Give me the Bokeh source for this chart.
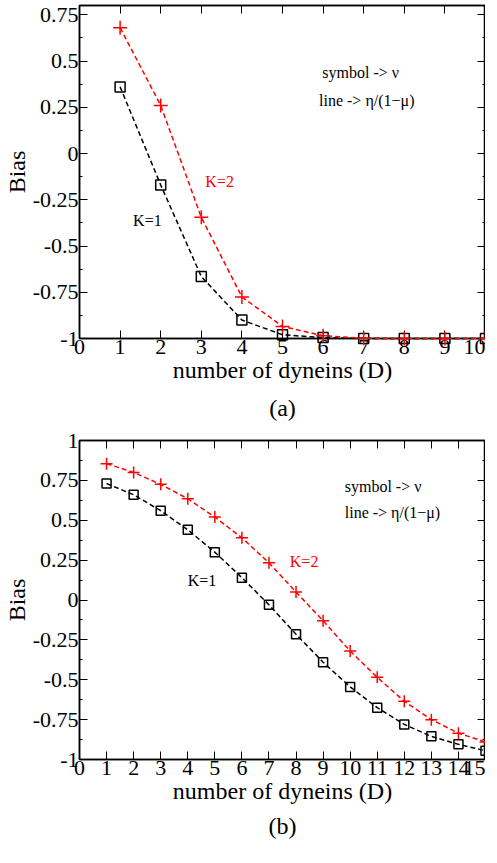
from bokeh.plotting import figure
from bokeh.models import FixedTicker, LinearAxis, Label, Title, Range1d
from bokeh.layouts import column
from bokeh.embed import file_html
from bokeh.resources import INLINE

# ---------------- data ----------------
D_a = [1, 2, 3, 4, 5, 6, 7, 8, 9, 10]
bias_a_k1 = [0.36, -0.17, -0.665, -0.90, -0.98, -0.995, -1.0, -1.0, -1.0, -1.0]
bias_a_k2 = [0.68, 0.26, -0.345, -0.775, -0.935, -0.985, -0.998, -1.0, -1.0, -1.0]

D_b = [1, 2, 3, 4, 5, 6, 7, 8, 9, 10, 11, 12, 13, 14, 15]
bias_b_k1 = [0.73, 0.66, 0.56, 0.44, 0.30, 0.14, -0.03, -0.215, -0.39, -0.545,
             -0.675, -0.78, -0.855, -0.905, -0.945]
bias_b_k2 = [0.855, 0.80, 0.725, 0.635, 0.52, 0.39, 0.233, 0.05, -0.13, -0.32,
             -0.485, -0.635, -0.75, -0.835, -0.89]

xticks_a = list(range(0, 11))
xticks_b = list(range(0, 16))
yticks_a = [-1, -0.75, -0.5, -0.25, 0, 0.25, 0.5, 0.75]
yticks_a_labels = ["-1", "-0.75", "-0.5", "-0.25", "0", "0.25", "0.5", "0.75"]
yticks_b = [-1, -0.75, -0.5, -0.25, 0, 0.25, 0.5, 0.75, 1]
yticks_b_labels = ["-1", "-0.75", "-0.5", "-0.25", "0", "0.25", "0.5", "0.75", "1"]

FONT = "Liberation Serif"


def style_axis(ax, ticks, labels=None, minor=None, show_labels=True):
    ax.ticker = FixedTicker(ticks=ticks, minor_ticks=minor or [])
    if not show_labels:
        ax.major_label_overrides = {t: "" for t in ticks}
    elif labels is not None:
        ax.major_label_overrides = {t: l for t, l in zip(ticks, labels)}
    else:
        ax.major_label_overrides = {t: str(t) for t in ticks}
    ax.major_tick_in = 8
    ax.major_tick_out = 0
    ax.minor_tick_in = 3
    ax.minor_tick_out = 0
    ax.major_tick_line_color = "black"
    ax.minor_tick_line_color = "black"
    ax.axis_line_color = "black"
    ax.axis_line_width = 1.5
    ax.major_label_text_font = FONT
    ax.axis_label_text_font = FONT
    ax.axis_label_text_font_style = "normal"
    ax.axis_label_text_color = "black"
    if show_labels:
        ax.major_label_text_font_size = "22px"
        ax.major_label_standoff = 1
        ax.major_label_text_color = "black"
    else:
        ax.major_label_text_font_size = "0px"
        ax.major_label_standoff = 0
        ax.major_label_text_color = None


def make_panel(D, k1, k2, xmax, ymax, xticks, yticks, ylabels, caption,
               h, top_border, cap_standoff, mk_plus, mk_sq, texts):
    p = figure(width=485, height=h, output_backend="svg",
               toolbar_location=None, x_range=Range1d(0, xmax),
               y_range=Range1d(-1, ymax), min_border_left=0,
               min_border_right=0, min_border_top=top_border,
               min_border_bottom=0)
    p.grid.visible = False
    p.outline_line_color = "black"
    p.outline_line_width = 1.5
    p.background_fill_color = "white"
    p.border_fill_color = "white"

    minor_y = [t + 0.125 for t in yticks[:-1]]
    style_axis(p.xaxis[0], xticks)
    style_axis(p.yaxis[0], yticks, ylabels, minor_y)
    p.xaxis[0].axis_label = "number of dyneins (D)"
    p.yaxis[0].axis_label = "Bias"
    p.xaxis[0].axis_label_text_font_size = "24px"
    p.yaxis[0].axis_label_text_font_size = "24px"
    p.xaxis[0].axis_label_standoff = 0
    p.yaxis[0].axis_label_standoff = 0

    top = LinearAxis()
    style_axis(top, xticks, show_labels=False)
    p.add_layout(top, "above")
    right = LinearAxis()
    style_axis(right, yticks, ylabels, minor_y, show_labels=False)
    p.add_layout(right, "right")

    p.line(D, k1, line_color="black", line_width=1.5, line_dash="5 3",
           level="overlay")
    p.line(D, k2, line_color="red", line_width=1.5, line_dash="5 3",
           level="overlay")
    p.scatter(D, k1, marker="square", size=mk_sq, fill_color=None,
              line_color="black", line_width=1.5, level="overlay")
    p.scatter(D, k2, marker="cross", size=mk_plus, line_color="red",
              line_width=1.5, level="overlay")

    for (tx, ty, txt, col) in texts:
        p.add_layout(Label(x=tx, y=ty, text=txt, text_color=col,
                           text_font=FONT, text_font_size="16px",
                           text_baseline="middle", text_align="left"))

    cap = Title(text=caption, align="center", text_font=FONT,
                text_font_size="24px", text_font_style="normal",
                text_color="black", standoff=cap_standoff)
    p.add_layout(cap, "below")
    return p


p1 = make_panel(D_a, bias_a_k1, bias_a_k2, 10, 0.8, xticks_a, yticks_a,
                yticks_a_labels, "(a)", 427, 5, 14, 14, 10,
                [(5.98, 0.436, "symbol  ->  \u03bd", "black"),
                 (5.9, 0.287, "line  ->  \u03b7/(1\u2212\u03bc)", "black"),
                 (3.1, -0.15, "K=2", "red"),
                 (1.32, -0.36, "K=1", "black")])

p2 = make_panel(D_b, bias_b_k1, bias_b_k2, 15, 1.0, xticks_b, yticks_b,
                yticks_b_labels, "(b)", 415, 13, 8, 12, 9,
                [(9.8, 0.71, "symbol  ->  \u03bd", "black"),
                 (9.8, 0.55, "line  ->  \u03b7/(1\u2212\u03bc)", "black"),
                 (7.77, 0.24, "K=2", "red"),
                 (4.0, 0.12, "K=1", "black")])

layout = column(p1, p2, spacing=0)

with open("out.html", "w") as f:
    f.write(file_html(layout, INLINE))
